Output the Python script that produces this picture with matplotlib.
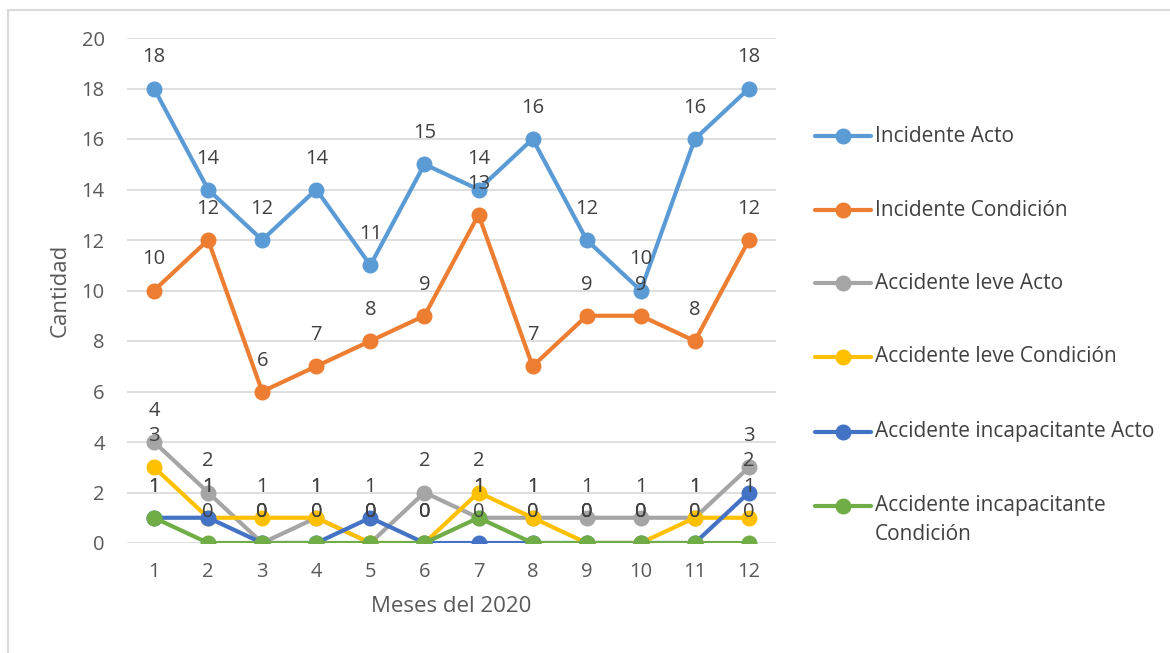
import matplotlib
matplotlib.use("Agg")
import matplotlib.pyplot as plt
from matplotlib.lines import Line2D
from matplotlib.patches import Rectangle

plt.rcParams['font.family'] = ['Open Sans', 'DejaVu Sans']

months = [1, 2, 3, 4, 5, 6, 7, 8, 9, 10, 11, 12]
incidente_acto = [18, 14, 12, 14, 11, 15, 14, 16, 12, 10, 16, 18]
incidente_condicion = [10, 12, 6, 7, 8, 9, 13, 7, 9, 9, 8, 12]
acc_leve_acto = [4, 2, 0, 1, 0, 2, 1, 1, 1, 1, 1, 3]
acc_leve_condicion = [3, 1, 1, 1, 0, 0, 2, 1, 0, 0, 1, 1]
acc_incap_acto = [1, 1, 0, 0, 1, 0, 0, 0, 0, 0, 0, 2]
acc_incap_condicion = [1, 0, 0, 0, 0, 0, 1, 0, 0, 0, 0, 0]

series_names = ["Incidente Acto", "Incidente Condición", "Accidente leve Acto",
                "Accidente leve Condición", "Accidente incapacitante Acto",
                "Accidente incapacitante\nCondición"]
series_values = [incidente_acto, incidente_condicion, acc_leve_acto,
                 acc_leve_condicion, acc_incap_acto, acc_incap_condicion]
colors = ["#5B9BD5", "#ED7D31", "#A5A5A5", "#FFC000", "#4472C4", "#70AD47"]

W, H = 1170, 653
fig = plt.figure(figsize=(W / 100, H / 100), dpi=100)
# outer chart border (only left and top edges fall inside the image)
fig.patches.append(Rectangle((7.5 / W, -20 / H), (W + 20) / W, (H + 20 - 9.5) / H,
                             transform=fig.transFigure, fill=False,
                             edgecolor="#D9D9D9", linewidth=1.5))

ax = fig.add_axes([127 / W, 1 - 543 / H, (776 - 127) / W, (543 - 38) / H])
ax.set_xlim(0.5, 12.5)
ax.set_ylim(0, 20)
ax.set_yticks(range(0, 21, 2))
ax.set_xticks(months)
ax.grid(axis='y', color="#D9D9D9", linewidth=1.2)
ax.set_axisbelow(True)
for s in ax.spines.values():
    s.set_visible(False)
ax.tick_params(length=0, labelsize=14.5, labelcolor="#595959")
ax.tick_params(axis='y', pad=16)
ax.tick_params(axis='x', pad=14)
ax.set_xlabel("Meses del 2020", fontsize=16, color="#595959", labelpad=10)
ax.set_ylabel("Cantidad", fontsize=16, color="#595959", labelpad=8)

for name, vals, c in zip(series_names, series_values, colors):
    ax.plot(months, vals, color=c, linewidth=3, marker='o', markersize=10.5,
            solid_capstyle='round', solid_joinstyle='round', zorder=3)

for vals in series_values:
    for m, v in zip(months, vals):
        ax.annotate(str(v), (m, v), xytext=(0, 31), textcoords='offset pixels',
                    ha='center', va='center', fontsize=14.5, color="#404040",
                    zorder=5, annotation_clip=False)

# legend
leg_y = [136, 210, 283, 357, 432, 506]
for name, c, y in zip(series_names, colors, leg_y):
    yf = 1 - y / H
    fig.add_artist(Line2D([815 / W, 871 / W], [yf, yf], color=c, linewidth=3,
                          solid_capstyle='round', transform=fig.transFigure))
    fig.add_artist(Line2D([843 / W], [yf], color=c, marker='o', markersize=10.5,
                          transform=fig.transFigure))
    for k, line in enumerate(name.split("\n")):
        fig.text(875 / W, 1 - (y + 28 * k) / H, line, ha='left', va='center',
                 fontsize=15, color="#404040")

fig.savefig("out.png", dpi=100)
